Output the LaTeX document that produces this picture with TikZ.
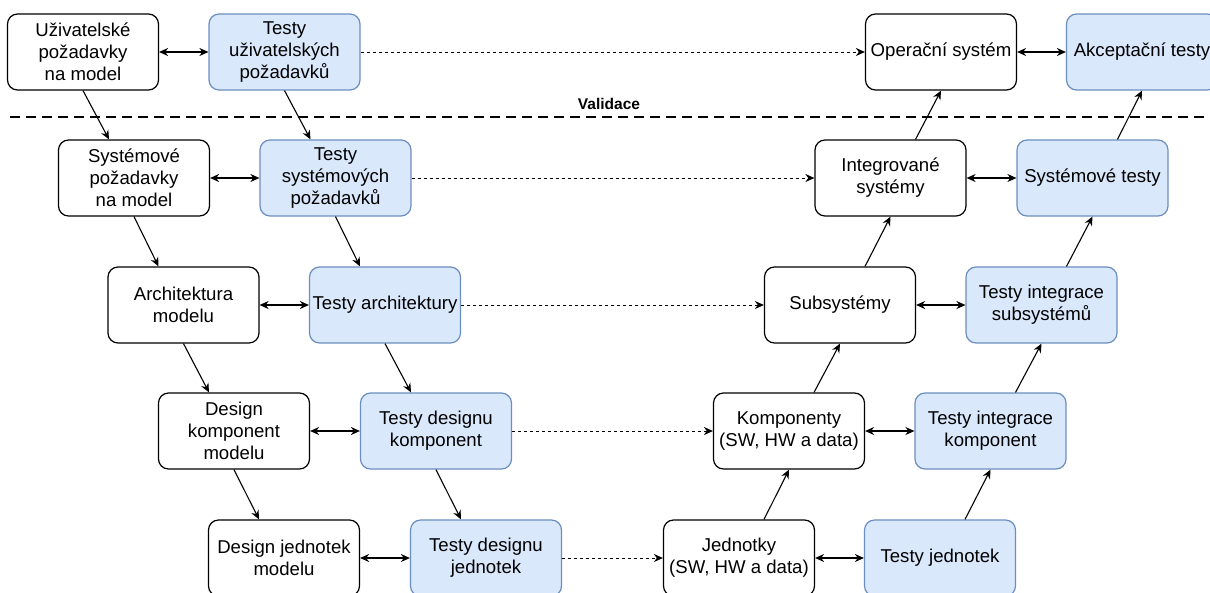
\documentclass[tikz,border=0pt]{standalone}
\usepackage{fontspec}
\setmainfont{Liberation Sans}
\usetikzlibrary{arrows.meta,calc}
\definecolor{testfill}{HTML}{DAE8FC}
\definecolor{testdraw}{HTML}{6C8EBF}
\begin{document}
\begin{tikzpicture}[x=1pt,y=-1pt,
  box/.style={draw=black, line width=1.2pt, fill=white, rounded corners=10pt,
    minimum width=151pt, minimum height=76pt, inner sep=0pt, align=center,
    font=\fontsize{18.6}{22}\selectfont},
  testbox/.style={box, draw=testdraw, fill=testfill},
  tip/.tip={Stealth[length=9pt,width=8pt]},
  arr/.style={line width=1.1pt, -tip},
  both/.style={line width=1.1pt, tip-tip},
  link/.style={line width=1pt, dash pattern=on 3pt off 3pt, -tip}]
\useasboundingbox (0,0) rectangle (1210,592);

% separator between verification and validation
\coordinate (sepL) at (10,117);
\coordinate (sepR) at (1215,117);
\draw[line width=2.6pt, dash pattern=on 10pt off 6pt] (sepL) -- (sepR);
\node[font=\bfseries\fontsize{15.5}{18}\selectfont] (val) at (609,104) {Validace};

% left branch: requirements and design
\node[box] (A1) at (83,52)    {Uživatelské\\požadavky\\na model};
\node[box] (A2) at (134,178)  {Systémové\\požadavky\\na model};
\node[box] (A3) at (183.5,305) {Architektura\\modelu};
\node[box] (A4) at (234,431)  {Design\\komponent\\modelu};
\node[box] (A5) at (284,558)  {Design jednotek\\modelu};

% tests of the left branch
\node[testbox] (T1) at (284.5,52) {Testy\\uživatelských\\požadavků};
\node[testbox] (T2) at (335.5,178) {Testy\\systémových\\požadavků};
\node[testbox] (T3) at (385,305)  {Testy architektury};
\node[testbox] (T4) at (436,431)  {Testy designu\\komponent};
\node[testbox] (T5) at (486,558)  {Testy designu\\jednotek};

% right branch: integration
\node[box] (S1) at (941,52)    {Operační systém};
\node[box] (S2) at (890.5,178) {Integrované\\systémy};
\node[box] (S3) at (840,305)   {Subsystémy};
\node[box] (S4) at (789,431)   {Komponenty\\(SW, HW a data)};
\node[box] (S5) at (739,558)   {Jednotky\\(SW, HW a data)};

% tests of the right branch
\node[testbox] (R1) at (1142,52)    {Akceptační testy};
\node[testbox] (R2) at (1092.5,178) {Systémové testy};
\node[testbox] (R3) at (1041.5,305) {Testy integrace\\subsystémů};
\node[testbox] (R4) at (990.5,431)  {Testy integrace\\komponent};
\node[testbox] (R5) at (940,558)    {Testy jednotek};

% pairs of artefact and its test
\foreach \i in {1,...,5} {
  \draw[both] (A\i.east) -- (T\i.west);
  \draw[both] (S\i.east) -- (R\i.west);
  \draw[link] (T\i.east) -- (S\i.west);
}

% descending branch
\foreach \i/\j in {1/2,2/3,3/4,4/5} {
  \draw[arr] (A\i.south) -- ($(A\j.north)+(-25,0)$);
  \draw[arr] (T\i.south) -- ($(T\j.north)+(-25,0)$);
}

% ascending branch
\foreach \i/\j in {2/1,3/2,4/3,5/4} {
  \draw[arr] ($(S\i.north)+(25,0)$) -- (S\j.south);
  \draw[arr] ($(R\i.north)+(25,0)$) -- (R\j.south);
}
\end{tikzpicture}
\end{document}
